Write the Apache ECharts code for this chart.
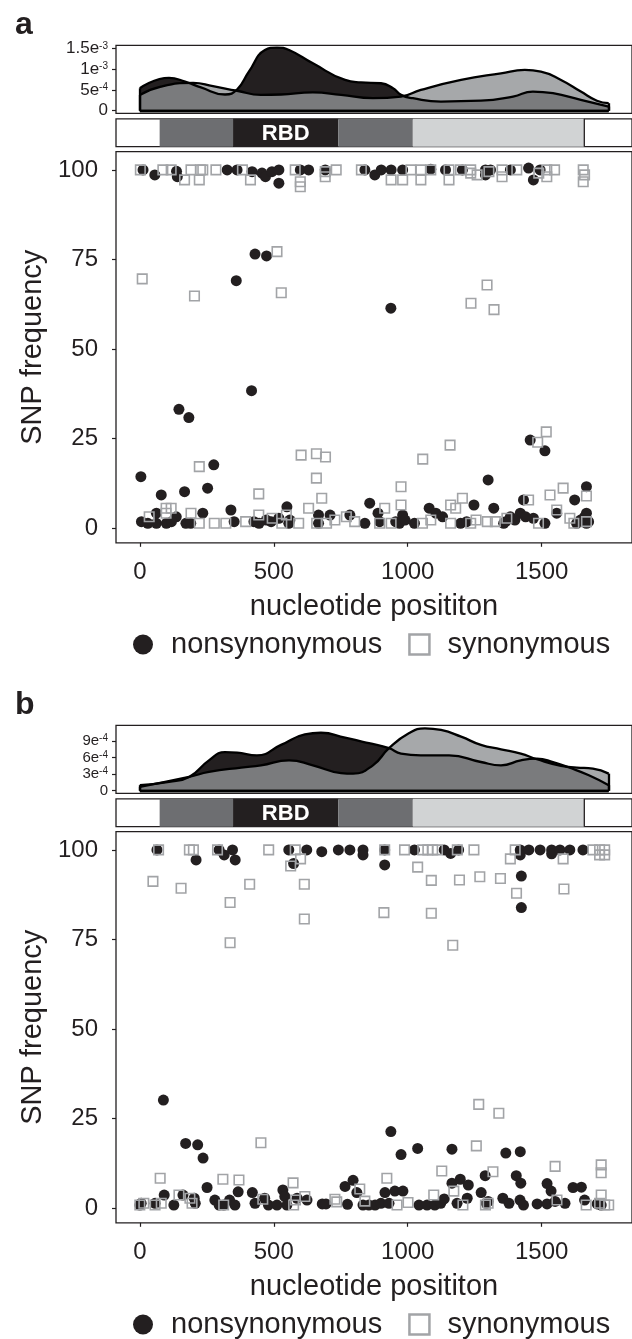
<!DOCTYPE html>
<html>
<head>
<meta charset="utf-8">
<title>SNP frequency along the spike gene</title>
<script src="https://cdn.jsdelivr.net/npm/echarts@6/dist/echarts.min.js"></script>
<style>
html, body { margin: 0; padding: 0; background: #fff; }
#chart { width: 632px; height: 1339px; }
</style>
</head>
<body>
<div id="chart"></div>
<script>
// ---------- data ----------
const xTicks = [0, 500, 1000, 1500]
const freqTicks = [0, 25, 50, 75, 100]

// density axes, values in units of 1e-4
const densTicksA = [0, 5, 10, 15]
const densLabelsA = ['0', '5e{s|-4}', '1e{s|-3}', '1.5e{s|-3}']
const densTicksB = [0, 3, 6, 9]
const densLabelsB = ['0', '3e{s|-4}', '6e{s|-4}', '9e{s|-4}']

// domain bar: [start, end] in nucleotides, and kind
const domainSpans = [[74, 348], [348, 741], [741, 1019], [1019, 1659]]
const domainKinds = ['S1', 'RBD', 'S1', 'S2']

// panel a densities (x1e-4)
const densNonA = [[0, 5.4], [109, 7.9], [169, 7.0], [228, 5.6], [318, 3.9], [363, 5.1], [407, 9.4], [467, 14.6], [512, 15.2], [557, 14.6], [646, 11.4], [766, 7.4], [825, 6.8], [900, 6.6], [945, 5.4], [975, 3.8], [1019, 3.0], [1124, 2.2], [1273, 2.4], [1393, 3.4], [1467, 4.6], [1542, 4.2], [1646, 2.6], [1750, 1.0]]
const densSynA = [[0, 3.8], [79, 5.8], [199, 6.7], [273, 5.9], [363, 4.8], [452, 3.8], [527, 3.9], [646, 4.4], [751, 3.8], [870, 3.0], [975, 3.4], [1049, 5.0], [1199, 7.4], [1348, 9.0], [1437, 9.8], [1497, 9.4], [1572, 7.4], [1646, 4.6], [1706, 2.4], [1750, 1.8]]

// panel b densities (x1e-4)
const densNonB = [[0, 1.0], [109, 1.6], [184, 2.5], [258, 5.5], [318, 7.0], [363, 6.9], [437, 6.4], [527, 8.3], [616, 10.2], [676, 10.5], [766, 9.6], [855, 8.6], [930, 7.7], [975, 6.7], [1049, 6.4], [1154, 6.4], [1273, 5.2], [1348, 4.6], [1422, 5.5], [1482, 5.8], [1542, 5.2], [1602, 4.2], [1676, 2.8], [1750, 1.0]]
const densSynB = [[0, 0.7], [184, 2.5], [258, 3.4], [378, 4.2], [452, 4.6], [557, 5.5], [646, 4.6], [751, 3.2], [796, 3.1], [870, 4.6], [930, 7.7], [1004, 10.4], [1064, 11.3], [1124, 11.0], [1199, 9.8], [1273, 8.3], [1348, 7.5], [1422, 6.7], [1482, 5.7], [1572, 4.5], [1631, 4.2], [1691, 4.0], [1750, 3.1]]

// panel a SNPs [position, frequency]
const nonsynA = [
  [12, 100], [56, 98.6], [137, 99.6], [140, 98.1], [326, 100], [363, 100], [419, 99.5], [456, 99.1], [469, 98.1], [493, 99.5],
  [519, 100], [519, 96.3], [599, 100], [630, 100], [692, 100], [840, 100], [877, 98.6], [901, 100], [938, 100], [981, 100],
  [1086, 100.2], [1141, 100], [1204, 100], [1290, 100], [1290, 98.6], [1309, 100], [1383, 100], [1451, 100.5], [1469, 97.2], [1494, 100],
  [430, 76.5], [473, 76.0], [360, 69.1], [937, 61.4], [417, 38.4], [146, 33.2], [183, 30.9], [276, 17.7], [4, 14.4], [1457, 24.6],
  [1512, 21.6], [1300, 13.5],
  [6, 1.85], [62, 4.2], [62, 1.4], [80, 9.3], [99, 1.4], [136, 3.2], [167, 10.2], [172, 1.4], [235, 4.2], [253, 11.2],
  [340, 5.1], [352, 1.85], [426, 1.85], [472, 2.3], [519, 2.8], [549, 6.0], [556, 1.4], [667, 3.7], [667, 1.4], [710, 3.7],
  [784, 3.7], [840, 1.4], [858, 7.0], [889, 4.2], [969, 1.4], [981, 3.7], [1025, 1.4], [1080, 5.6], [1105, 4.2], [1130, 3.2],
  [1197, 1.4], [1247, 6.5], [1321, 5.6], [1358, 1.4], [1383, 3.2], [1420, 4.2], [1432, 7.9], [1469, 2.8], [1512, 1.4], [1556, 4.2],
  [1623, 7.9], [1630, 1.4], [1667, 11.6], [1667, 4.2], [1667, 1.4], [1660, 3.2], [1675, 1.85], [30, 1.4], [118, 1.85], [190, 1.4],
  [445, 1.4], [490, 1.85], [560, 2.3], [895, 1.85], [955, 1.85], [990, 2.3], [1220, 1.85], [1365, 1.85], [1400, 2.3], [1440, 3.2],
  [1645, 2.3]
]
const synA = [
  [2, 100], [86, 100], [117, 100], [167, 97.2], [191, 100], [222, 97.2], [226, 100], [235, 100], [284, 100], [383, 100],
  [413, 97.2], [580, 100], [599, 96.7], [599, 95.3], [692, 99.5], [692, 98.1], [733, 100], [827, 100], [938, 97.2], [981, 97.2],
  [1012, 100], [1049, 100], [1049, 97.2], [1086, 100], [1154, 100], [1154, 97.2], [1197, 100], [1235, 100], [1235, 99.1], [1259, 98.6],
  [1303, 99.5], [1352, 100], [1352, 98.1], [1407, 100], [1489, 99.1], [1519, 100], [1519, 98.1], [1548, 100], [1655, 100], [1660, 98.6],
  [1655, 96.7],
  [512, 77.2], [9, 69.6], [204, 64.8], [528, 65.7], [1296, 67.9], [1236, 62.8], [1322, 61.0], [1517, 26.9], [1485, 24.0], [1158, 23.2],
  [1056, 19.3], [602, 20.4], [659, 20.8], [693, 19.9], [222, 17.2], [659, 14.0],
  [35, 3.2], [98, 4.2], [98, 5.6], [117, 5.6], [191, 4.2], [222, 1.4], [278, 1.4], [321, 1.4], [395, 1.85], [444, 9.6],
  [444, 3.7], [494, 2.8], [530, 1.4], [547, 3.7], [593, 1.4], [630, 5.6], [660, 1.4], [679, 8.4], [697, 1.4], [728, 2.3],
  [771, 3.2], [802, 1.85], [895, 1.4], [914, 5.6], [938, 1.4], [975, 11.6], [975, 6.5], [1055, 1.4], [1086, 2.3], [1160, 1.4],
  [1160, 6.5], [1179, 5.6], [1204, 8.4], [1235, 1.4], [1255, 2.3], [1297, 1.85], [1327, 1.85], [1370, 2.8], [1451, 7.9], [1488, 1.4],
  [1531, 9.3], [1556, 5.1], [1580, 11.2], [1605, 2.8], [1620, 1.4], [1667, 9.0], [1667, 1.85]
]

// panel b SNPs [position, frequency]
const nonsynB = [
  [64, 100], [210, 97.2], [296, 100], [315, 98.6], [346, 100], [356, 97.2], [556, 100], [574, 96.2], [623, 100], [679, 99.5],
  [741, 100], [784, 100], [833, 100], [833, 98.6], [914, 100], [914, 95.8], [1025, 100], [1136, 100], [1160, 99], [1190, 100],
  [1420, 100], [1420, 98.6], [1424, 92.7], [1424, 83.9], [1452, 100], [1494, 100], [1537, 100], [1537, 98.9], [1568, 100], [1605, 100],
  [1654, 100],
  [88, 30.2],
  [0, 0.9], [5, 1.4], [57, 1.4], [91, 3.7], [127, 0.9], [161, 3.7], [171, 18.1], [203, 2.8], [207, 1.4], [216, 17.7],
  [236, 14], [251, 5.8], [280, 2.3], [296, 0.9], [313, 0.9], [335, 2.3], [355, 0.9], [367, 4.6], [420, 4.4], [430, 1.4],
  [466, 2.8], [480, 0.9], [512, 0.9], [534, 5.1], [541, 3.3], [549, 0.9], [587, 2.8], [624, 2.3], [681, 1.2], [695, 1.2],
  [766, 6.1], [775, 1.1], [796, 7.8], [810, 4.4], [833, 0.9], [855, 0.9], [878, 0.9], [900, 1.4], [915, 4.4], [930, 1.4],
  [937, 21.4], [952, 4.8], [975, 15], [982, 4.8], [1037, 16.7], [1042, 0.9], [1072, 0.9], [1101, 0.9], [1123, 1.4], [1136, 2.6],
  [1165, 16.5], [1165, 7], [1184, 1.4], [1196, 8.1], [1226, 6.5], [1222, 2.8], [1274, 4.4], [1289, 9.1], [1293, 1.4], [1300, 1.9],
  [1355, 2.8], [1366, 15.4], [1378, 1.4], [1405, 9.1], [1420, 15.8], [1422, 7], [1419, 2.3], [1432, 0.9], [1483, 1.2], [1520, 6.9],
  [1520, 1.2], [1535, 4.8], [1550, 1.9], [1587, 1.4], [1617, 5.8], [1648, 5.9], [1660, 2.3], [1707, 1.2], [1722, 0.9]
]
const synB = [
  [70, 100], [185, 100], [200, 100], [290, 100], [481, 100], [563, 95.5], [580, 100], [600, 97.5], [914, 100], [988, 100],
  [1056, 100], [1075, 100], [1093, 100], [1111, 100], [1185, 100], [1247, 100], [1383, 97.5], [1401, 100], [1580, 97.5], [1691, 100],
  [1716, 100], [1735, 100], [1735, 98.6], [1716, 98.6],
  [49, 91.2], [154, 89.3], [337, 85.3], [337, 74.1], [410, 90.4], [614, 90.4], [614, 80.7], [911, 82.5], [1037, 95.2], [1088, 91.5],
  [1088, 82.3], [1168, 73.4], [1193, 91.6], [1269, 92.5], [1346, 92.0], [1406, 87.9], [1583, 89.1],
  [1265, 29.0], [1340, 26.5],
  [0, 0.9], [15, 1.4], [57, 0.9], [76, 8.4], [80, 1.4], [146, 3.7], [187, 2.8], [195, 1.4], [310, 8.1], [313, 0.9],
  [370, 7.9], [452, 18.3], [459, 2.5], [572, 7.1], [574, 0.9], [581, 2.3], [616, 3.3], [728, 2.5], [735, 1.8], [821, 5.4],
  [840, 2.0], [922, 8.4], [960, 0.9], [1001, 1.6], [1097, 3.7], [1127, 10.4], [1172, 4.8], [1206, 0.9], [1256, 17.4], [1318, 10.2],
  [1290, 0.9], [1300, 1.4], [1550, 11.7], [1557, 2.3], [1666, 0.9], [1722, 12.1], [1722, 9.9], [1722, 3.7], [1716, 1.4], [1735, 0.9],
  [1750, 0.9]
]

// ---------- styling ----------
const INK = '#231f20'
const FONT = '"Liberation Sans", Arial, Helvetica, sans-serif'
const domainColor = { S1: '#6d6e71', RBD: '#231f20', S2: '#d1d3d4' }
const X_MIN = -88.9
const X_MAX = 1837
const PANEL_LEFT = 116
const PANEL_WIDTH = 520

const grids = []
const xAxes = []
const yAxes = []
const series = []

function outline(d) {
  const first = d[0]
  const last = d[d.length - 1]
  return {
    silent: true,
    symbol: ['none', 'none'],
    label: { show: false },
    lineStyle: { color: '#000', width: 2.3, type: 'solid' },
    data: [
      [{ coord: [first[0], 0] }, { coord: first }],
      [{ coord: [last[0], 0] }, { coord: last }],
      [{ coord: [first[0], 0] }, { coord: [last[0], 0] }]
    ]
  }
}

function hiddenX(gi) {
  return {
    gridIndex: gi, type: 'value', min: X_MIN, max: X_MAX,
    axisLine: { show: false, onZero: false }, axisTick: { show: false },
    axisLabel: { show: false }, splitLine: { show: false }
  }
}

function addPanel(off, dNon, dSyn, dTicks, dLabels, dMin, dMax, dFont, non, syn) {
  const g = grids.length
  // density strip
  grids.push({ left: PANEL_LEFT, top: 45.3 + off, width: PANEL_WIDTH, height: 68, show: true, borderColor: INK, borderWidth: 1.3 })
  // domain bar
  grids.push({ left: PANEL_LEFT, top: 118.8 + off, width: PANEL_WIDTH, height: 27.9, show: true, borderColor: INK, borderWidth: 1.3 })
  // scatter
  grids.push({ left: PANEL_LEFT, top: 151.6 + off, width: PANEL_WIDTH, height: 391.2, show: true, borderColor: INK, borderWidth: 1.3 })

  xAxes.push(hiddenX(g), hiddenX(g + 1))
  xAxes.push({
    gridIndex: g + 2, type: 'value', min: X_MIN, max: X_MAX,
    name: 'nucleotide posititon', nameLocation: 'middle', nameGap: 50,
    nameTextStyle: { fontSize: 29, color: INK, fontFamily: FONT },
    axisLine: { show: false, onZero: false },
    axisTick: { show: true, customValues: xTicks, length: 4, lineStyle: { color: INK, width: 1.2 } },
    axisLabel: {
      customValues: xTicks, margin: 18, fontSize: 24, color: INK, fontFamily: FONT,
      formatter: v => String(v), hideOverlap: false
    },
    splitLine: { show: false }
  })

  yAxes.push({
    gridIndex: g, type: 'value', min: dMin, max: dMax,
    axisLine: { show: false, onZero: false },
    axisTick: { show: true, customValues: dTicks, length: 4, lineStyle: { color: INK, width: 1.2 } },
    axisLabel: {
      customValues: dTicks, margin: 8, fontSize: dFont, lineHeight: 15, color: INK, fontFamily: FONT,
      hideOverlap: false, showMinLabel: true, showMaxLabel: true,
      formatter: v => dLabels[dTicks.indexOf(v)] || '',
      rich: { s: { fontSize: 10, lineHeight: 15, verticalAlign: 'top', color: INK, fontFamily: FONT } }
    },
    splitLine: { show: false }
  })
  yAxes.push({
    gridIndex: g + 1, type: 'value', min: 0, max: 1, show: false,
    axisLine: { onZero: false }
  })
  yAxes.push({
    gridIndex: g + 2, type: 'value', min: -4.05, max: 105.1,
    name: 'SNP frequency', nameLocation: 'middle', nameGap: 66,
    nameTextStyle: { fontSize: 29, color: INK, fontFamily: FONT },
    axisLine: { show: false, onZero: false },
    axisTick: { show: true, customValues: freqTicks, length: 4, lineStyle: { color: INK, width: 1.2 } },
    axisLabel: { customValues: freqTicks, margin: 18, fontSize: 24, color: INK, fontFamily: FONT, hideOverlap: false },
    splitLine: { show: false }
  })

  series.push({
    type: 'line', xAxisIndex: g, yAxisIndex: g, data: dNon, smooth: 0.5,
    symbol: 'none', silent: true,
    lineStyle: { color: '#000', width: 2.3, join: 'round' },
    areaStyle: { color: INK, opacity: 1 },
    markLine: outline(dNon)
  })
  series.push({
    type: 'line', xAxisIndex: g, yAxisIndex: g, data: dSyn, smooth: 0.5,
    symbol: 'none', silent: true,
    lineStyle: { color: '#000', width: 2.3, join: 'round' },
    areaStyle: { color: 'rgb(144,146,149)', opacity: 0.8 },
    markLine: outline(dSyn)
  })

  series.push({
    type: 'custom', xAxisIndex: g + 1, yAxisIndex: g + 1, silent: true,
    data: domainSpans,
    renderItem: (params, api) => {
      const kind = domainKinds[params.dataIndex]
      const tl = api.coord([api.value(0), 1])
      const br = api.coord([api.value(1), 0])
      const children = [{
        type: 'rect',
        shape: { x: tl[0], y: tl[1], width: br[0] - tl[0], height: br[1] - tl[1] },
        style: { fill: domainColor[kind] }
      }]
      if (kind === 'S2') {
        children.push({
          type: 'line',
          shape: { x1: br[0], y1: tl[1], x2: br[0], y2: br[1] },
          style: { stroke: INK, lineWidth: 1.3 }
        })
      }
      if (kind === 'RBD') {
        children.push({
          type: 'text',
          style: {
            text: 'RBD', x: (tl[0] + br[0]) / 2, y: (tl[1] + br[1]) / 2 + 1,
            align: 'center', verticalAlign: 'middle',
            fill: '#fff', font: 'bold 22px ' + FONT
          }
        })
      }
      return { type: 'group', children }
    }
  })

  series.push({
    name: 'nonsynonymous', type: 'scatter', xAxisIndex: g + 2, yAxisIndex: g + 2,
    data: non, symbol: 'circle', symbolSize: 11,
    itemStyle: { color: INK, opacity: 1 }
  })
  series.push({
    name: 'synonymous', type: 'scatter', xAxisIndex: g + 2, yAxisIndex: g + 2,
    data: syn, symbol: 'rect', symbolSize: 9.5,
    itemStyle: { color: 'rgba(255,255,255,0)', borderColor: '#a2a4a7', borderWidth: 1.6, opacity: 1 }
  })
}

addPanel(0, densNonA, densSynA, densTicksA, densLabelsA, -0.63, 15.74, 17, nonsynA, synA)
addPanel(680, densNonB, densSynB, densTicksB, densLabelsB, -0.47, 11.85, 15, nonsynB, synB)

function legendAt(top) {
  return {
    left: 133, top: top, padding: 0, itemWidth: 20, itemHeight: 20, itemGap: 26,
    selectedMode: false,
    textStyle: { fontSize: 29, color: INK, fontFamily: FONT, padding: [0, 0, 0, 13] },
    data: [
      { name: 'nonsynonymous', icon: 'circle', itemStyle: { color: INK } },
      { name: 'synonymous', icon: 'rect', itemStyle: { color: '#fff', borderColor: '#a2a4a7', borderWidth: 2.5 } }
    ]
  }
}

const chart = echarts.init(document.getElementById('chart'), null, { renderer: 'canvas' })
chart.setOption({
  animation: false,
  backgroundColor: '#fff',
  textStyle: { fontFamily: FONT },
  title: [
    { text: 'a', left: 10, top: 4, textStyle: { fontSize: 32, fontWeight: 'bold', color: INK, fontFamily: FONT } },
    { text: 'b', left: 10, top: 684, textStyle: { fontSize: 32, fontWeight: 'bold', color: INK, fontFamily: FONT } }
  ],
  legend: [legendAt(630), legendAt(1310)],
  grid: grids,
  xAxis: xAxes,
  yAxis: yAxes,
  series: series
})
</script>
</body>
</html>
